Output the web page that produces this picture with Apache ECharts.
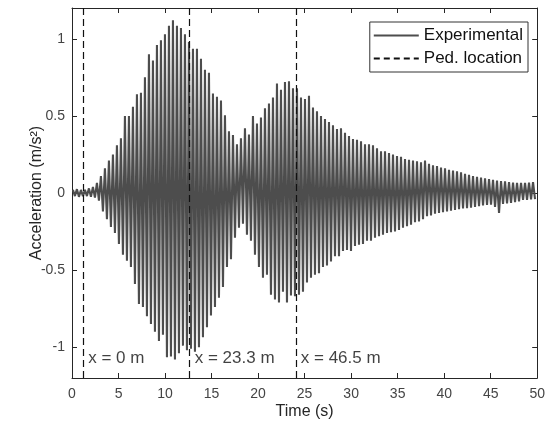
<!DOCTYPE html>
<html>
<head>
<meta charset="utf-8">
<script src="https://cdn.jsdelivr.net/npm/echarts@6/dist/echarts.min.js"></script>
<style>html,body{margin:0;padding:0;background:#fff}#c{width:548px;height:427px}</style>
</head>
<body>
<div id="c"></div>
<script>
// Time of first positive peak and oscillation period (s)
const tStart = 0.1;
const cyclePeriod = 0.43;
// Positive peak of each cycle (m/s^2)
const upperPeaks = [
  0.02, 0.025, 0.02, 0.02, 0.03, 0.04, 0.065, 0.11, 0.16, 0.21,
  0.25, 0.31, 0.355, 0.50, 0.50, 0.56, 0.64, 0.65, 0.75, 0.90,
  0.86, 0.96, 0.99, 1.03, 1.085, 1.12, 1.085, 1.07, 1.03, 0.98,
  0.935, 0.935, 0.87, 0.80, 0.78, 0.645, 0.625, 0.60, 0.505, 0.40,
  0.376, 0.316, 0.355, 0.42, 0.38, 0.50, 0.45, 0.49, 0.55, 0.58,
  0.62, 0.71, 0.67, 0.72, 0.725, 0.68, 0.68, 0.62, 0.61, 0.63,
  0.555, 0.53, 0.50, 0.48, 0.46, 0.44, 0.415, 0.42, 0.39, 0.37,
  0.35, 0.345, 0.335, 0.316, 0.316, 0.31, 0.29, 0.27, 0.27, 0.26,
  0.25, 0.24, 0.235, 0.22, 0.215, 0.21, 0.205, 0.20, 0.21, 0.19,
  0.18, 0.175, 0.165, 0.16, 0.15, 0.145, 0.14, 0.135, 0.125, 0.118,
  0.11, 0.105, 0.10, 0.095, 0.09, 0.085, 0.08, 0.078, 0.075, 0.07,
  0.068, 0.066, 0.065, 0.065, 0.068, 0.07
];
// Negative peak of each cycle (m/s^2)
const lowerPeaks = [
  -0.02, -0.025, -0.02, -0.02, -0.025, -0.03, -0.05, -0.12, -0.17, -0.22,
  -0.26, -0.33, -0.40, -0.44, -0.48, -0.59, -0.72, -0.74, -0.80, -0.85,
  -0.90, -0.96, -0.92, -1.065, -1.06, -1.08, -1.04, -0.99, -1.02, -1.01,
  -1.03, -1.0, -0.935, -0.87, -0.795, -0.74, -0.68, -0.61, -0.48, -0.43,
  -0.29, -0.226, -0.20, -0.27, -0.31, -0.40, -0.48, -0.55, -0.53, -0.66,
  -0.69, -0.71, -0.64, -0.71, -0.665, -0.67, -0.66, -0.64, -0.58, -0.55,
  -0.53, -0.52, -0.48, -0.47, -0.445, -0.41, -0.41, -0.376, -0.37, -0.376,
  -0.344, -0.335, -0.33, -0.31, -0.31, -0.29, -0.28, -0.27, -0.26, -0.255,
  -0.25, -0.24, -0.225, -0.215, -0.205, -0.19, -0.185, -0.17, -0.15, -0.145,
  -0.135, -0.13, -0.125, -0.12, -0.115, -0.11, -0.105, -0.10, -0.098, -0.095,
  -0.09, -0.085, -0.08, -0.078, -0.075, -0.09, -0.13, -0.07, -0.068, -0.065,
  -0.06, -0.055, -0.045, -0.045, -0.042, -0.04
];
// Pedestrian location markers
const pedTimes = [1.2, 12.65, 24.05];
const pedLabels = ['x = 0 m', 'x = 23.3 m', 'x = 46.5 m'];
const pedLabelLevel = -1.075;
const yTicks = [-1, -0.5, 0, 0.5, 1];

const signal = [];
for (let i = 0; i < upperPeaks.length; i++) {
  const t = tStart + i * cyclePeriod;
  signal.push([t, upperPeaks[i]]);
  signal.push([t + cyclePeriod / 2, lowerPeaks[i]]);
}

const font = "'Liberation Sans', Arial, Helvetica, sans-serif";
const axisCol = '#262626';
const chart = echarts.init(document.getElementById('c'), null, {renderer: 'canvas'});
chart.setOption({
  animation: false,
  backgroundColor: '#fff',
  textStyle: {fontFamily: font},
  grid: {left: 72, right: 7, top: 8, bottom: 49, containLabel: false},
  legend: {
    orient: 'vertical', right: 20, top: 22,
    data: ['Experimental', 'Ped. location'],
    itemWidth: 45, itemHeight: 14, itemGap: 6,
    padding: [5, 5, 5, 3],
    borderColor: '#333', borderWidth: 1, backgroundColor: '#fff',
    itemStyle: {opacity: 0},
    textStyle: {fontSize: 17, color: '#111', fontFamily: font}
  },
  xAxis: [{
    type: 'value', min: 0, max: 50, interval: 5,
    name: 'Time (s)', nameLocation: 'middle', nameGap: 26, nameMoveOverlap: false,
    nameTextStyle: {fontSize: 16, color: '#262626', fontFamily: font},
    axisLine: {onZero: false, lineStyle: {color: axisCol, width: 1}},
    axisTick: {inside: true, length: 5, lineStyle: {color: axisCol}},
    axisLabel: {fontSize: 14, color: '#444', margin: 9, fontFamily: font},
    splitLine: {show: false}
  }, {
    type: 'value', min: 0, max: 50, interval: 5, position: 'top',
    axisLine: {show: true, onZero: false, lineStyle: {color: axisCol, width: 1}},
    axisTick: {show: true, inside: true, length: 5, lineStyle: {color: axisCol}},
    axisLabel: {show: false}, splitLine: {show: false}
  }],
  yAxis: [{
    type: 'value', min: -1.2, max: 1.2,
    name: 'Acceleration (m/s²)', nameLocation: 'middle', nameGap: 27, nameMoveOverlap: false,
    nameTextStyle: {fontSize: 16, color: '#262626', fontFamily: font},
    axisLine: {show: true, onZero: false, lineStyle: {color: axisCol, width: 1}},
    axisTick: {show: true, inside: true, length: 5, customValues: yTicks, lineStyle: {color: axisCol}},
    axisLabel: {fontSize: 14, color: '#444', margin: 7, customValues: yTicks, fontFamily: font,
      formatter: v => String(v)},
    splitLine: {show: false}
  }, {
    type: 'value', min: -1.2, max: 1.2, position: 'right',
    axisLine: {show: true, onZero: false, lineStyle: {color: axisCol, width: 1}},
    axisTick: {show: true, inside: true, length: 5, customValues: yTicks, lineStyle: {color: axisCol}},
    axisLabel: {show: false}, splitLine: {show: false}
  }],
  series: [{
    name: 'Experimental', type: 'line', data: signal,
    xAxisIndex: 0, yAxisIndex: 0,
    showSymbol: false, symbol: 'none', sampling: null,
    lineStyle: {color: '#4d4d4d', width: 2.1},
    itemStyle: {color: '#4d4d4d'}, z: 2
  }, {
    name: 'Ped. location', type: 'line', data: [],
    xAxisIndex: 0, yAxisIndex: 0,
    showSymbol: false, symbol: 'none',
    lineStyle: {color: '#111', width: 1.2, type: [6, 4]},
    itemStyle: {color: '#111'}, z: 5,
    markLine: {
      silent: true, symbol: ['none', 'none'],
      lineStyle: {color: '#111', width: 1.2, type: [7, 4]},
      label: {show: false},
      data: pedTimes.map(t => ({xAxis: t}))
    }
  }, {
    name: 'labels', type: 'scatter', symbolSize: 0,
    xAxisIndex: 0, yAxisIndex: 0, z: 6,
    data: pedTimes.map((t, i) => ({value: [t, pedLabelLevel], name: pedLabels[i]})),
    label: {show: true, position: 'right', distance: 5, formatter: p => p.name,
      fontSize: 17, color: '#111', fontFamily: font}
  }]
});
</script>
</body>
</html>
